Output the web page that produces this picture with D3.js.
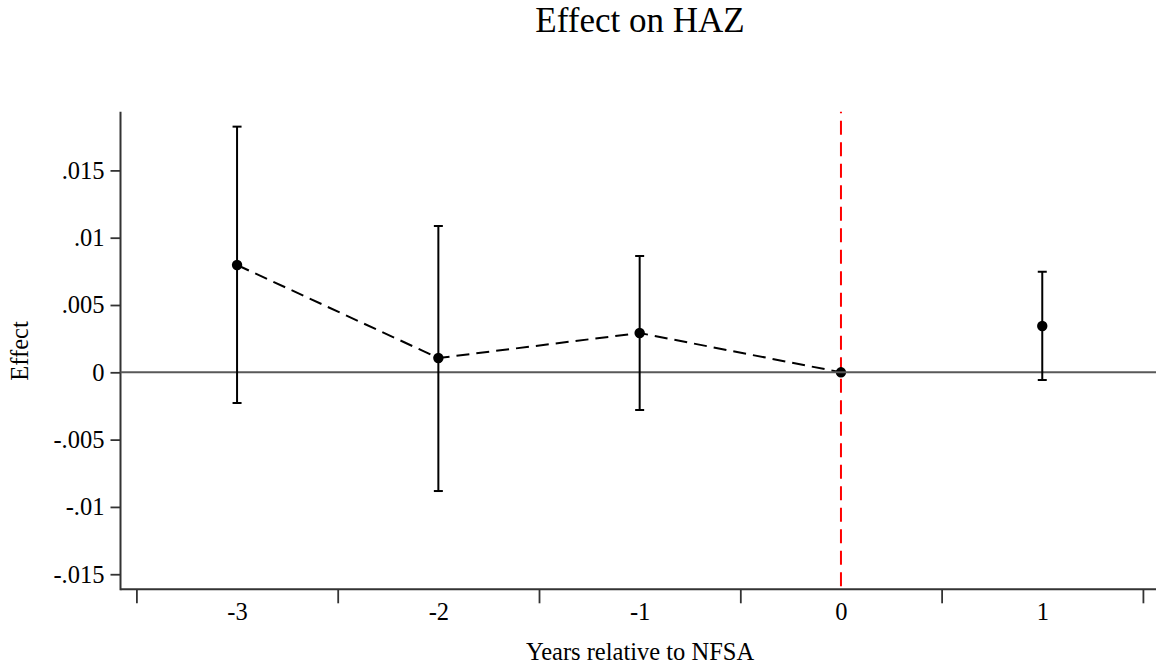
<!DOCTYPE html>
<html>
<head>
<meta charset="utf-8">
<script src="https://cdn.jsdelivr.net/npm/d3@7"></script>
<style>
  html, body { margin: 0; padding: 0; background: #fff; }
  svg { display: block; font-family: "Liberation Serif", "Times New Roman", serif; }
</style>
</head>
<body>
<svg id="chart" width="1156" height="669"></svg>
<script>
// ---- data ----
const years = [-3, -2, -1, 0, 1];
const effect = [0.00797, 0.00106, 0.00292, 0.0, 0.00344];
const ciLow = [-0.00228, -0.00882, -0.00280, 0.0, -0.00057];
const ciHigh = [0.01825, 0.01087, 0.00864, 0.0, 0.00747];
const connected = [true, true, true, true, false];
const yTickValues = [0.015, 0.01, 0.005, 0, -0.005, -0.01, -0.015];
const yTickLabels = [".015", ".01", ".005", "0", "-.005", "-.01", "-.015"];
const xTickLabelValues = [-3, -2, -1, 0, 1];
const xTickLabels = ["-3", "-2", "-1", "0", "1"];
const xTickMarkValues = [-3.5, -2.5, -1.5, -0.5, 0.5, 1.5];
const treatmentYear = 0;
const titleText = "Effect on HAZ";
const xTitle = "Years relative to NFSA";
const yTitle = "Effect";

(function () {
// ---- layout ----
const W = 1156, H = 669;
const pLeft = 120.5, pRight = 1156, pTop = 111.7, pBottom = 589.3;
const svg = d3.select("#chart");
svg.append("rect").attr("width", W).attr("height", H).attr("fill", "#fff");

const x = d3.scaleLinear().domain([-3.579, 1.565]).range([pLeft, pRight]);
const y = d3.scaleLinear().domain([-0.01612, 0.01936]).range([pBottom, pTop]);

const axisColor = "#333";

// title
svg.append("text").attr("x", 640).attr("y", 32).attr("text-anchor", "middle")
  .attr("font-size", 35).attr("fill", "#000").text(titleText);

// y axis
const yAxis = svg.append("g").attr("transform", `translate(${pLeft},0)`)
  .call(d3.axisLeft(y).tickValues(yTickValues).tickSize(10).tickPadding(6)
    .tickFormat((d, i) => yTickLabels[i]));
yAxis.select(".domain").remove();
yAxis.selectAll(".tick line").attr("stroke", axisColor).attr("stroke-width", 1.8);
yAxis.selectAll(".tick text").attr("font-size", 24.5).attr("fill", "#000")
  .attr("font-family", "Liberation Serif, serif");
svg.append("line").attr("x1", pLeft).attr("x2", pLeft).attr("y1", pTop).attr("y2", pBottom + 1)
  .attr("stroke", axisColor).attr("stroke-width", 2);

// x axis tick marks
const xAxisMarks = svg.append("g").attr("transform", `translate(0,${pBottom})`)
  .call(d3.axisBottom(x).tickValues(xTickMarkValues).tickSize(14).tickFormat(""));
xAxisMarks.select(".domain").remove();
xAxisMarks.selectAll(".tick line").attr("stroke", axisColor).attr("stroke-width", 1.8);
// x axis labels
const xAxisLabels = svg.append("g").attr("transform", `translate(0,${pBottom})`)
  .call(d3.axisBottom(x).tickValues(xTickLabelValues).tickSize(0).tickPadding(13)
    .tickFormat((d, i) => xTickLabels[i]));
xAxisLabels.select(".domain").remove();
xAxisLabels.selectAll(".tick text").attr("font-size", 24.5).attr("fill", "#000")
  .attr("font-family", "Liberation Serif, serif");
svg.append("line").attr("x1", pLeft).attr("x2", pRight).attr("y1", pBottom).attr("y2", pBottom)
  .attr("stroke", axisColor).attr("stroke-width", 2);

// axis titles
svg.append("text").attr("x", 640).attr("y", 660).attr("text-anchor", "middle")
  .attr("font-size", 24.5).attr("fill", "#000").text(xTitle);
svg.append("text").attr("transform", "translate(28,351) rotate(-90)")
  .attr("text-anchor", "middle").attr("font-size", 24.5).attr("fill", "#000").text(yTitle);

// red dashed vertical line at treatment
svg.append("line").attr("x1", x(treatmentYear)).attr("x2", x(treatmentYear))
  .attr("y1", pTop).attr("y2", pBottom)
  .attr("stroke", "#ff0000").attr("stroke-width", 2).attr("stroke-dasharray", "14,7.5")
  .attr("stroke-dashoffset", 12.5);

const data = years.map((yr, i) => ({ yr, e: effect[i], lo: ciLow[i], hi: ciHigh[i], c: connected[i] }));

// dashed connecting line
const line = d3.line().x(d => x(d.yr)).y(d => y(d.e));
svg.append("path").datum(data.filter(d => d.c)).attr("d", line)
  .attr("fill", "none").attr("stroke", "#000").attr("stroke-width", 2)
  .attr("stroke-dasharray", "13,7");

// markers
svg.append("g").selectAll("circle").data(data).join("circle")
  .attr("cx", d => x(d.yr)).attr("cy", d => y(d.e)).attr("r", 5.2).attr("fill", "#000");

// zero line
svg.append("line").attr("x1", pLeft).attr("x2", pRight).attr("y1", y(0)).attr("y2", y(0))
  .attr("stroke", "#595959").attr("stroke-width", 2);

// error bars
const eb = svg.append("g").attr("stroke", "#000").attr("stroke-width", 2);
const withCI = data.filter(d => d.hi !== d.lo);
eb.selectAll("line.v").data(withCI).join("line").attr("class", "v")
  .attr("x1", d => x(d.yr)).attr("x2", d => x(d.yr)).attr("y1", d => y(d.lo)).attr("y2", d => y(d.hi));
eb.selectAll("line.cl").data(withCI).join("line").attr("class", "cl")
  .attr("x1", d => x(d.yr) - 4.5).attr("x2", d => x(d.yr) + 4.5).attr("y1", d => y(d.lo)).attr("y2", d => y(d.lo));
eb.selectAll("line.ch").data(withCI).join("line").attr("class", "ch")
  .attr("x1", d => x(d.yr) - 4.5).attr("x2", d => x(d.yr) + 4.5).attr("y1", d => y(d.hi)).attr("y2", d => y(d.hi));
})();
</script>
</body>
</html>
